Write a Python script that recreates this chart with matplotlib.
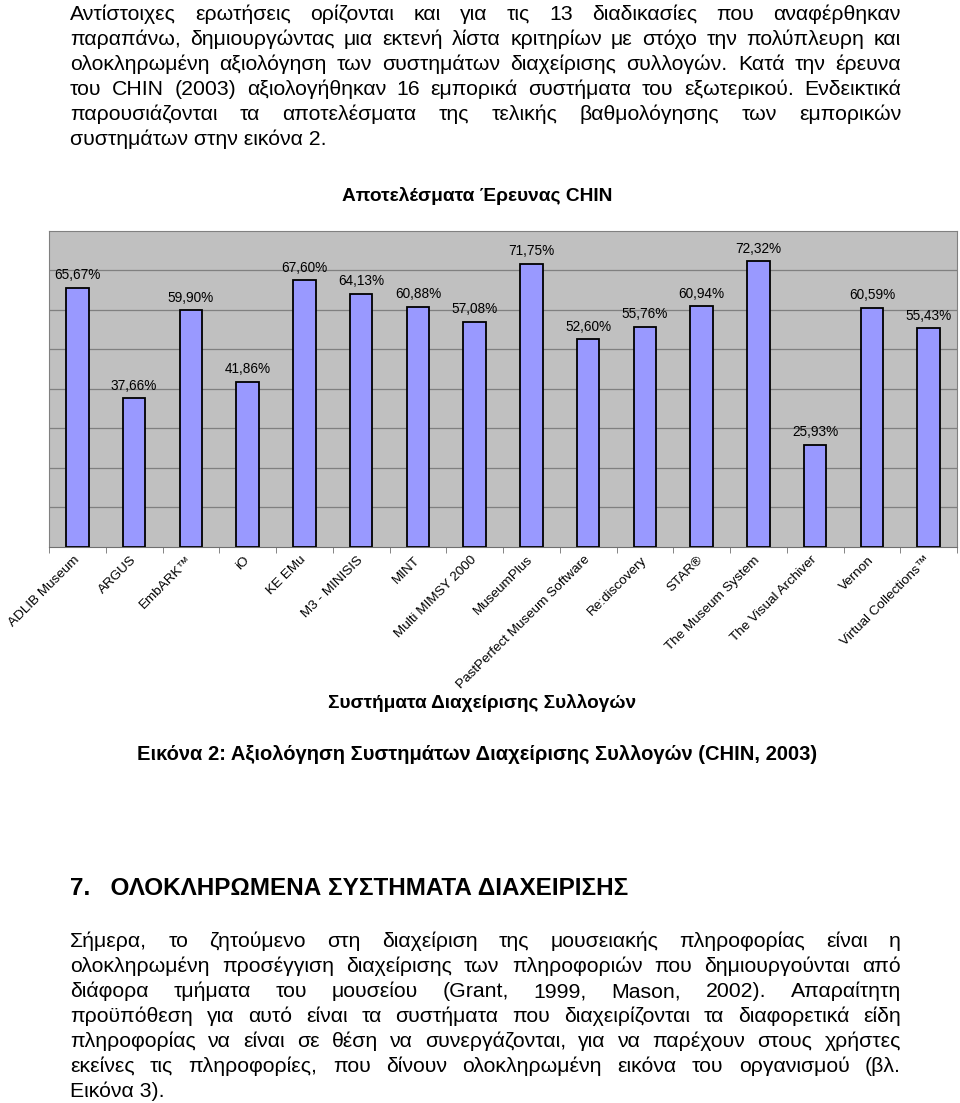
import matplotlib
matplotlib.use('Agg')
import matplotlib.pyplot as plt

plt.rcParams['font.family'] = ['Liberation Sans', 'DejaVu Sans']

# Δεδομένα του διαγράμματος
systems = ['ADLIB Museum', 'ARGUS', 'EmbARK™', 'iO', 'KE EMu', 'M3 - MINISIS',
           'MINT', 'Multi MIMSY 2000', 'MuseumPlus', 'PastPerfect Museum Software',
           'Re:discovery', 'STAR®', 'The Museum System', 'The Visual Archiver',
           'Vernon', 'Virtual Collections™']
scores = [65.67, 37.66, 59.90, 41.86, 67.60, 64.13, 60.88, 57.08,
          71.75, 52.60, 55.76, 60.94, 72.32, 25.93, 60.59, 55.43]

chart_title = 'Αποτελέσματα Έρευνας CHIN'
x_title = 'Συστήματα Διαχείρισης Συλλογών'
caption = 'Εικόνα 2: Αξιολόγηση Συστημάτων Διαχείρισης Συλλογών (CHIN, 2003)'
heading = '7.   ΟΛΟΚΛΗΡΩΜΕΝΑ ΣΥΣΤΗΜΑΤΑ ΔΙΑΧΕΙΡΙΣΗΣ'

para1 = ['Αντίστοιχες ερωτήσεις ορίζονται και για τις 13 διαδικασίες που αναφέρθηκαν',
         'παραπάνω, δημιουργώντας μια εκτενή λίστα κριτηρίων με στόχο την πολύπλευρη και',
         'ολοκληρωμένη αξιολόγηση των συστημάτων διαχείρισης συλλογών. Κατά την έρευνα',
         'του CHIN (2003) αξιολογήθηκαν 16 εμπορικά συστήματα του εξωτερικού. Ενδεικτικά',
         'παρουσιάζονται τα αποτελέσματα της τελικής βαθμολόγησης των εμπορικών',
         'συστημάτων στην εικόνα 2.']
para2 = ['Σήμερα, το ζητούμενο στη διαχείριση της μουσειακής πληροφορίας είναι η',
         'ολοκληρωμένη προσέγγιση διαχείρισης των πληροφοριών που δημιουργούνται από',
         'διάφορα τμήματα του μουσείου (Grant, 1999, Mason, 2002). Απαραίτητη',
         'προϋπόθεση για αυτό είναι τα συστήματα που διαχειρίζονται τα διαφορετικά είδη',
         'πληροφορίας να είναι σε θέση να συνεργάζονται, για να παρέχουν στους χρήστες',
         'εκείνες τις πληροφορίες, που δίνουν ολοκληρωμένη εικόνα του οργανισμού (βλ.',
         'Εικόνα 3).']

W, H = 960, 1103
fig = plt.figure(figsize=(W / 100, H / 100), dpi=100)
fig.patch.set_facecolor('white')

# Διάγραμμα
ax = fig.add_axes([49 / W, 1 - 547 / H, 908 / W, 316 / H])
ax.set_facecolor('#c0c0c0')
x = list(range(len(systems)))
bars = ax.bar(x, scores, width=0.4, color='#9999ff', edgecolor='black', linewidth=1.3, zorder=3)
ax.set_xlim(-0.5, len(systems) - 0.5)
ax.set_ylim(0, 80)
ax.set_yticks(range(10, 80, 10))
ax.yaxis.grid(True, color='#808080', linewidth=0.9, zorder=0)
ax.tick_params(axis='y', left=False, labelleft=False)
for s in ['left', 'top', 'right']:
    ax.spines[s].set_color('#808080')
ax.spines['bottom'].set_color('#707070')
ax.set_xticks(x)
ax.set_xticklabels(systems, rotation=45, ha='right', va='center', rotation_mode='anchor', fontsize=9.7)
ax.tick_params(axis='x', which='major', length=0, pad=8)
ax.set_xticks([i - 0.5 for i in range(len(systems) + 1)], minor=True)
ax.tick_params(axis='x', which='minor', length=4, color='#707070')

for bar, v in zip(bars, scores):
    ax.annotate(f'{v:.2f}'.replace('.', ',') + '%',
                (bar.get_x() + bar.get_width() / 2, v),
                xytext=(0, 6), textcoords='offset points',
                ha='center', va='baseline', fontsize=9.8)


def fy(y):
    return 1 - y / H


fig.text(477 / W, fy(201), chart_title, fontsize=13.8, fontweight='bold', ha='center', va='baseline')
fig.text(482 / W, fy(708), x_title, fontsize=13.7, fontweight='bold', ha='center', va='baseline')
fig.text(137 / W, fy(760), caption, fontsize=14.5, fontweight='bold', ha='left', va='baseline')
fig.text(70 / W, fy(895), heading, fontsize=17.5, fontweight='bold', ha='left', va='baseline')

# Πλήρης στοίχιση κειμένου
renderer = fig.canvas.get_renderer()
left, right = 70, 901


def put_paragraph(lines, y0, size=15.3, step=25):
    for i, line in enumerate(lines):
        y = fy(y0 + i * step)
        if i == len(lines) - 1:
            fig.text(left / W, y, line, fontsize=size, va='baseline')
            continue
        words = line.split()
        texts = [fig.text(0, y, w, fontsize=size, va='baseline') for w in words]
        widths = [t.get_window_extent(renderer).width for t in texts]
        gap = (right - left - sum(widths)) / (len(words) - 1)
        pos = left
        for t, w in zip(texts, widths):
            t.set_x(pos / W)
            pos += w + gap


put_paragraph(para1, 20)
put_paragraph(para2, 947)

plt.savefig('out.png', dpi=100)
